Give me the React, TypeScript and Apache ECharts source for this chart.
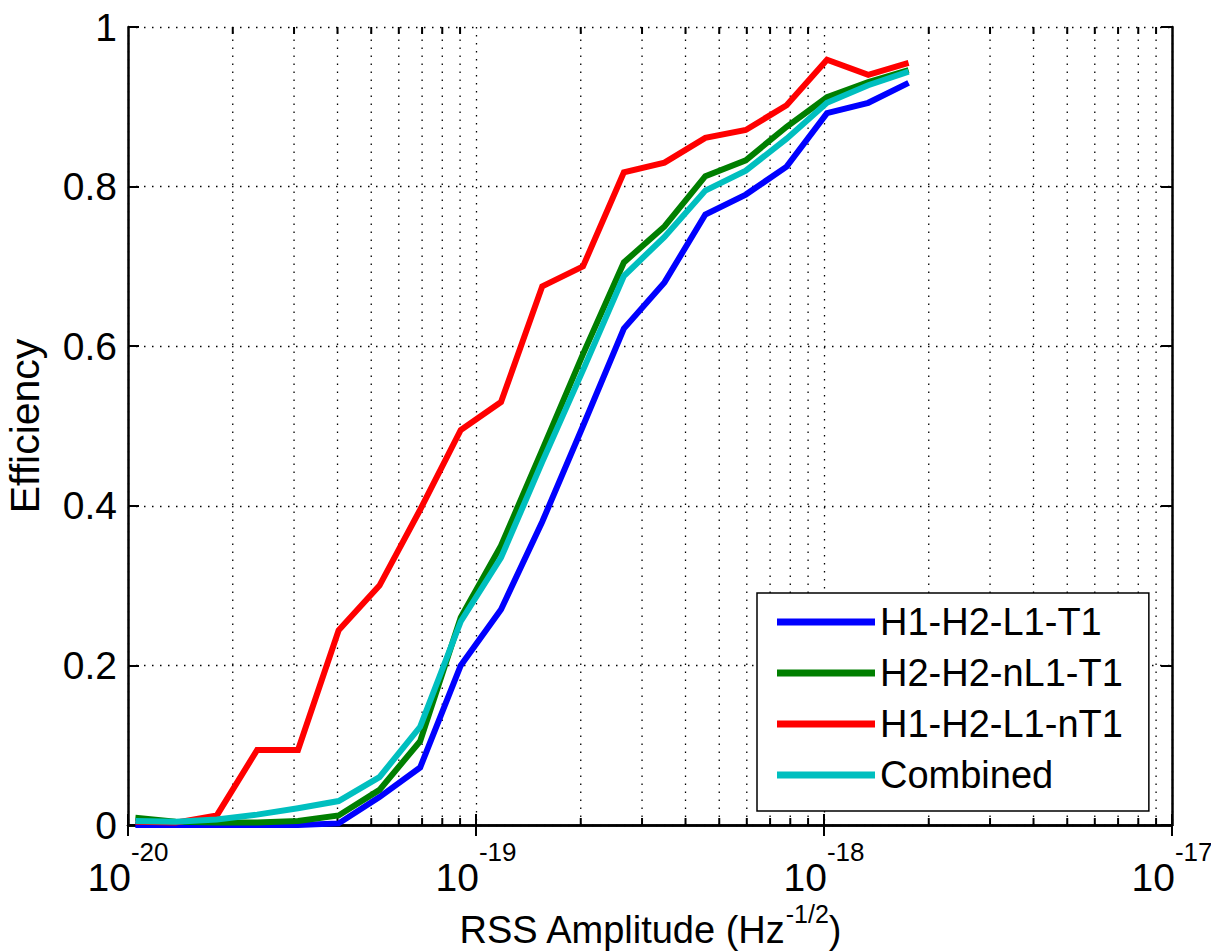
import React, { useEffect, useRef } from "react";
import * as echarts from "echarts";

// RSS amplitude in units of 1e-20 Hz^-1/2
const AMPLITUDE_E20 = [1.05, 1.37, 1.8, 2.35, 3.08, 4.03, 5.28, 6.91, 9.04, 11.8, 15.5, 20.3, 26.6, 34.8, 45.6, 59.6, 78.1, 102, 134, 175];

const H1H2L1T1 = [0, 0, 0, 0, 0, 0.002, 0.035, 0.072, 0.2, 0.27, 0.38, 0.5, 0.622, 0.68, 0.765, 0.79, 0.825, 0.892, 0.905, 0.93];
const H2H2nL1T1 = [0.009, 0.004, 0.003, 0.003, 0.005, 0.012, 0.044, 0.105, 0.26, 0.35, 0.47, 0.59, 0.705, 0.75, 0.813, 0.833, 0.875, 0.912, 0.931, 0.946];
const H1H2L1nT1 = [0.004, 0.003, 0.012, 0.094, 0.094, 0.244, 0.3, 0.395, 0.495, 0.53, 0.675, 0.7, 0.818, 0.83, 0.861, 0.871, 0.902, 0.959, 0.94, 0.955];
const COMBINED = [0.005, 0.004, 0.007, 0.013, 0.021, 0.03, 0.06, 0.123, 0.255, 0.335, 0.455, 0.57, 0.688, 0.737, 0.795, 0.82, 0.86, 0.905, 0.927, 0.944];

const SERIES_NAMES = ["H1-H2-L1-T1", "H2-H2-nL1-T1", "H1-H2-L1-nT1", "Combined"];
const SERIES_COLORS = ["#0000ff", "#007f00", "#ff0000", "#00bfbf"];

// minor log ticks (units of 1e-20)
const MINOR_TICKS = [2, 3, 4, 5, 6, 7, 8, 9, 20, 30, 40, 50, 60, 70, 80, 90, 200, 300, 400, 500, 600, 700, 800, 900];

const FONT = "Liberation Sans, Arial, Helvetica, sans-serif";

export default function App() {
  const ref = useRef<HTMLDivElement>(null);
  useEffect(() => {
    if (!ref.current) return;
    const chart = echarts.init(ref.current, null, { renderer: "svg" });
    const values = [H1H2L1T1, H2H2nL1T1, H1H2L1nT1, COMBINED];
    const dotted = { color: "#000", width: 1.3, type: [1.5, 6.5] as any };
    const lineSeries = values.map((v, i) => ({
      name: SERIES_NAMES[i],
      type: "line",
      data: AMPLITUDE_E20.map((x, j) => [x, v[j]]),
      showSymbol: false,
      symbol: "none",
      lineStyle: { color: SERIES_COLORS[i], width: 6, join: "miter" },
      itemStyle: { color: SERIES_COLORS[i] },
      z: 3 + i,
    }));
    chart.setOption({
      animation: false,
      backgroundColor: "#fff",
      grid: { left: 128, top: 27, width: 1044, height: 798, show: false, containLabel: false, outerBoundsMode: "none" },
      legend: {
        data: SERIES_NAMES,
        orient: "vertical",
        left: 757,
        top: 593,
        icon: "rect",
        itemWidth: 98,
        itemHeight: 7,
        itemGap: 13,
        padding: [10, 26, 17, 20],
        backgroundColor: "#fff",
        borderColor: "#000",
        borderWidth: 1.5,
        textStyle: { fontFamily: FONT, fontSize: 38, color: "#000", lineHeight: 38 },
        selectedMode: false,
      },
      xAxis: [
        {
          type: "log",
          logBase: 10,
          min: 1,
          max: 1000,
          position: "bottom",
          axisLine: { show: true, lineStyle: { color: "#000", width: 2.5 } },
          axisTick: { show: true, inside: true, length: 11, lineStyle: { color: "#000", width: 2 } },
          splitLine: { show: true, lineStyle: dotted },
          axisLabel: {
            margin: 14,
            formatter: (v: number) => `{b|10}{s|${Math.round(Math.log10(v)) - 20}}`,
            rich: {
              b: { fontFamily: FONT, fontSize: 39, color: "#000", verticalAlign: "bottom", lineHeight: 58 },
              s: { fontFamily: FONT, fontSize: 26, color: "#000", verticalAlign: "top", lineHeight: 58 },
            },
          },
          name: "{a|RSS Amplitude (Hz}{s|-1/2}{a|)}",
          nameLocation: "middle",
          nameMoveOverlap: false,
          nameGap: 76,
          nameTextStyle: {
            rich: {
              a: { fontFamily: FONT, fontSize: 38, color: "#000", verticalAlign: "bottom", lineHeight: 48 },
              s: { fontFamily: FONT, fontSize: 25, color: "#000", verticalAlign: "top", lineHeight: 48 },
            },
          },
        },
        {
          type: "log",
          logBase: 10,
          min: 1,
          max: 1000,
          position: "top",
          axisLine: { show: true, lineStyle: { color: "#000", width: 2.5 } },
          axisTick: { show: true, inside: true, length: 11, lineStyle: { color: "#000", width: 2 } },
          axisLabel: { show: false },
          splitLine: { show: false },
        },
      ],
      yAxis: [
        {
          type: "value",
          min: 0,
          max: 1,
          interval: 0.2,
          position: "left",
          axisLine: { show: true, lineStyle: { color: "#000", width: 2.5 } },
          axisTick: { show: true, inside: true, length: 11, lineStyle: { color: "#000", width: 2 } },
          splitLine: { show: true, lineStyle: dotted },
          axisLabel: { fontFamily: FONT, fontSize: 39, color: "#000", margin: 11 },
          name: "Efficiency",
          nameLocation: "middle",
          nameMoveOverlap: false,
          nameGap: 83,
          nameTextStyle: { fontFamily: FONT, fontSize: 41, color: "#000" },
        },
        {
          type: "value",
          min: 0,
          max: 1,
          interval: 0.2,
          position: "right",
          axisLine: { show: true, lineStyle: { color: "#000", width: 2.5 } },
          axisTick: { show: true, inside: true, length: 11, lineStyle: { color: "#000", width: 2 } },
          axisLabel: { show: false },
          splitLine: { show: false },
        },
      ],
      series: [
        {
          type: "custom",
          name: "minor",
          xAxisIndex: 0,
          yAxisIndex: 0,
          silent: true,
          clip: false,
          z: 1,
          data: MINOR_TICKS.map((v) => [v, 0]),
          encode: { x: 0, y: 1 },
          renderItem: (params: any, api: any) => {
            const x = api.value(0);
            const b = api.coord([x, 0]);
            const t = api.coord([x, 1]);
            return {
              type: "group",
              children: [
                { type: "line", shape: { x1: b[0], y1: b[1], x2: t[0], y2: t[1] }, style: { stroke: "#000", lineWidth: 1.3, lineDash: [1.5, 6.5], fill: null } },
                { type: "line", shape: { x1: b[0], y1: b[1], x2: b[0], y2: b[1] - 7 }, style: { stroke: "#000", lineWidth: 2, fill: null } },
                { type: "line", shape: { x1: t[0], y1: t[1], x2: t[0], y2: t[1] + 7 }, style: { stroke: "#000", lineWidth: 2, fill: null } },
              ],
            };
          },
        },
        ...lineSeries,
      ],
    });
    return () => chart.dispose();
  }, []);
  return <div ref={ref} style={{ position: "absolute", left: 0, top: 0, width: 1211, height: 951 }} />;
}
